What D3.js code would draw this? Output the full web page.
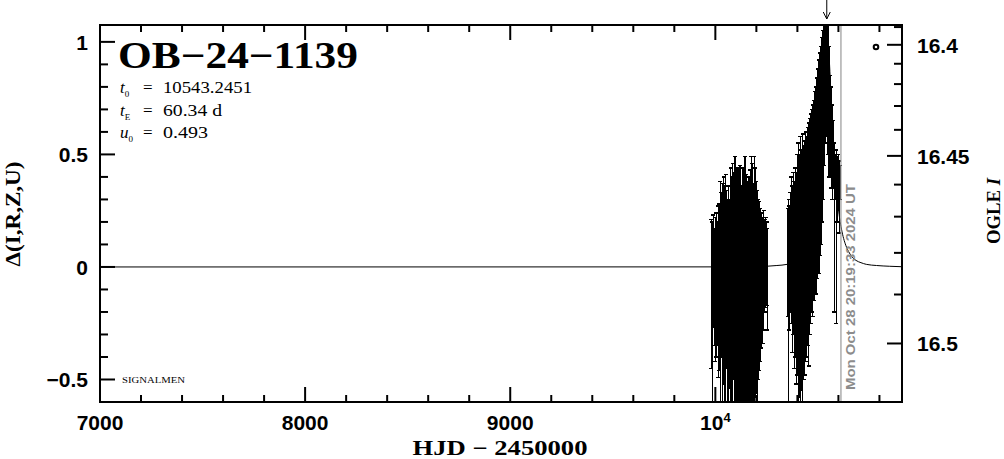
<!DOCTYPE html>
<html><head><meta charset="utf-8">
<script src="https://cdn.jsdelivr.net/npm/d3@7"></script>
<style>body{margin:0;background:#fff}svg{display:block}</style>
</head><body><svg id="c" width="1004" height="459"></svg>
<script>
// ---------- data ----------
const eventName = "OB\u221224\u22121139";
const t0 = 10543.2451, tE = 60.34, u0 = 0.493;
const nowHJD = 10612.35;
const nowLabel = "Mon Oct 28 20:19:33 2024 UT";
const signature = "SIGNALMEN";

const hjd = [9980,9985,9990,9995,10000,10005,10010,10015,10020,10025,10030,10035,10040,10045,10050,10055,10060,10065,10070,10075,10080,10085,10090,10095,10100,10105,10110,10115,10120,10125,10130,10135,10140,10145,10150,10155,10160,10165,10170,10175,10180,10185,10190,10195,10200,10205,10210,10215,10220,10225,10230,10235,10240,10245,10250,10253,
  10353,10357,10360,10365,10370,10375,10380,10385,10390,10395,10400,10405,10410,10415,10420,10425,10430,10435,10440,10445,10450,10455,10460,10465,10470,10475,10480,10485,10490,10495,10500,10505,10510,10515,10520,10525,10530,10535,10540,10545,10550,10555,10560,10565,10570,10575,10580,10585,10590,10595,10600,10605,10610];
const delta = [-0.12,-0.215,-0.02,-0.09,-0.10,-0.08,-0.075,-0.11,-0.09,-0.13,-0.035,-0.145,-0.06,-0.135,-0.145,-0.055,-0.19,-0.18,-0.12,-0.10,-0.13,-0.13,-0.04,-0.13,-0.095,-0.19,-0.07,-0.17,-0.105,-0.17,-0.095,-0.17,-0.12,-0.115,-0.125,-0.16,-0.155,-0.18,-0.085,-0.105,-0.10,-0.15,-0.115,-0.07,-0.09,-0.14,-0.10,-0.085,-0.08,-0.06,-0.06,-0.015,0.005,0.02,0.015,-0.055,
  0.02,-0.15,-0.005,0.065,0.075,-0.01,0.06,-0.035,0.02,-0.05,0.01,-0.035,-0.04,-0.035,-0.015,-0.015,0.02,0.04,0.09,0.09,0.135,0.10,0.18,0.215,0.25,0.25,0.295,0.34,0.34,0.395,0.44,0.445,0.50,0.54,0.61,0.675,0.775,0.85,0.86,0.84,0.79,0.69,0.625,0.575,0.51,0.50,0.175,0.40,0.135,0.345,0.375,0.31,0.375];
const err = [0.33,0.415,0.25,0.26,0.32,0.32,0.275,0.38,0.37,0.51,0.365,0.515,0.46,0.495,0.555,0.395,0.49,0.54,0.42,0.54,0.53,0.59,0.46,0.62,0.525,0.49,0.51,0.57,0.555,0.49,0.455,0.61,0.52,0.605,0.535,0.54,0.485,0.58,0.515,0.595,0.56,0.52,0.605,0.51,0.47,0.48,0.40,0.375,0.34,0.30,0.28,0.265,0.205,0.20,0.185,0.225,
  0.24,0.45,0.275,0.265,0.325,0.37,0.36,0.415,0.42,0.47,0.49,0.585,0.54,0.615,0.535,0.605,0.52,0.52,0.51,0.49,0.485,0.54,0.48,0.465,0.45,0.47,0.445,0.44,0.46,0.445,0.44,0.475,0.45,0.44,0.41,0.375,0.325,0.30,0.26,0.26,0.29,0.29,0.225,0.225,0.21,0.15,0.375,0.10,0.385,0.145,0.125,0.16,0.075];

const modelHJD = [7000,10000,10200,10300,10350,10400,10450,10480,10500,10520,10530,10543.2,10556,10566,10586,10606,10615,10636,10650,10665,10686,10710,10736,10786,10850,10910];
const modelDelta = [0,0.0003,0.0016,0.0064,0.0116,0.029,0.096,0.216,0.395,0.718,0.912,1.052,0.912,0.718,0.395,0.216,0.168,0.096,0.068,0.046,0.029,0.019,0.0116,0.0064,0.003,0.001];

const xMajor = [7000, 8000, 9000, 10000];
const xMajorLabels = ["7000", "8000", "9000", "10"];
const yMajor = [-0.5, 0, 0.5, 1];
const yMajorLabels = ["\u22120.5", "0", "0.5", "1"];
const magMajor = [16.4, 16.45, 16.5];
const magMajorLabels = ["16.4", "16.45", "16.5"];
const magMinor = [16.39,16.40,16.41,16.42,16.43,16.44,16.45,16.46,16.47,16.48,16.49,16.50];
const magZero = 16.552;

// ---------- layout ----------
const L = 100, R = 902, T = 25, B = 402;
const svg = d3.select("#c");
const x = d3.scaleLinear().domain([7000, 10910]).range([L, R]);
const y = d3.scaleLinear().domain([-0.6, 1.075]).range([B, T]);
const magToDelta = d3.scaleLog().domain([magZero - 16.4, magZero - 16.5]).range([0.987, -0.34]);
const ym = m => y(magToDelta(magZero - m));

const serif = "'Liberation Serif', 'DejaVu Serif', serif";
const sans = "'Liberation Sans', Arial, sans-serif";

svg.append("defs").append("clipPath").attr("id", "clip")
  .append("rect").attr("x", L).attr("y", T).attr("width", R - L).attr("height", B - T);

// model
const line = d3.line().x((d, i) => x(modelHJD[i])).y(d => y(d)).curve(d3.curveMonotoneX);
svg.append("path").attr("clip-path", "url(#clip)").attr("d", line(modelDelta))
  .attr("fill", "none").attr("stroke", "#000").attr("stroke-width", 1);

// data error bars
const gD = svg.append("g").attr("clip-path", "url(#clip)")
  .attr("stroke", "#000").attr("stroke-width", 1.4).attr("shape-rendering", "crispEdges");
hjd.forEach((t, i) => {
  const xx = x(t), y1 = y(delta[i] + err[i]), y2 = y(delta[i] - err[i]);
  gD.append("line").attr("x1", xx).attr("x2", xx).attr("y1", y1).attr("y2", y2);
  gD.append("line").attr("x1", xx - 2).attr("x2", xx + 2).attr("y1", y1).attr("y2", y1);
  gD.append("line").attr("x1", xx - 2).attr("x2", xx + 2).attr("y1", y2).attr("y2", y2);
});

// now line and label
const xn = x(nowHJD);
svg.append("line").attr("x1", xn).attr("x2", xn).attr("y1", T).attr("y2", B)
  .attr("stroke", "#999").attr("stroke-width", 1.2);
svg.append("text").attr("transform", `translate(${xn + 14},390) rotate(-90)`)
  .attr("font-family", sans).attr("font-weight", "bold").attr("font-size", 13)
  .attr("fill", "#8c8c8c").attr("textLength", 206).attr("lengthAdjust", "spacingAndGlyphs")
  .text(nowLabel);

// frame
svg.append("rect").attr("x", L).attr("y", T).attr("width", R - L).attr("height", B - T)
  .attr("fill", "none").attr("stroke", "#000").attr("stroke-width", 2);

const gT = svg.append("g").attr("stroke", "#000").attr("stroke-width", 2);
x.ticks(20).forEach(v => {
  const maj = xMajor.includes(v), len = maj ? 15 : 7;
  gT.append("line").attr("x1", x(v)).attr("x2", x(v)).attr("y1", B).attr("y2", B - len);
  gT.append("line").attr("x1", x(v)).attr("x2", x(v)).attr("y1", T).attr("y2", T + len);
});
y.ticks(20).forEach(v => {
  const maj = yMajor.some(m => Math.abs(m - v) < 1e-9), len = maj ? 15 : 8;
  gT.append("line").attr("x1", L).attr("x2", L + len).attr("y1", y(v)).attr("y2", y(v));
});
magMinor.forEach(m => {
  const maj = magMajor.some(k => Math.abs(k - m) < 1e-9), len = maj ? 15 : 8;
  const yy = ym(m);
  if (yy < T || yy > B) return;
  gT.append("line").attr("x1", R).attr("x2", R - len).attr("y1", yy).attr("y2", yy);
});

// tick labels
const lab = (sel) => sel.attr("font-family", sans).attr("font-weight", "bold").attr("font-size", 21).attr("fill", "#000");
xMajor.forEach((v, i) => {
  const t = lab(svg.append("text")).attr("x", x(v)).attr("y", 430).attr("text-anchor", "middle");
  t.append("tspan").text(xMajorLabels[i]);
  if (v === 10000) t.append("tspan").attr("font-size", 13).attr("dy", -8).text("4");
});
yMajor.forEach((v, i) => {
  lab(svg.append("text")).attr("x", 88).attr("y", y(v) + 8).attr("text-anchor", "end").text(yMajorLabels[i]);
});
magMajor.forEach((m, i) => {
  lab(svg.append("text")).attr("x", 917).attr("y", ym(m) + 8).attr("text-anchor", "start").text(magMajorLabels[i]);
});

// axis titles
svg.append("text").attr("x", 500).attr("y", 455).attr("text-anchor", "middle")
  .attr("font-family", serif).attr("font-weight", "bold").attr("font-size", 21)
  .attr("textLength", 175).attr("lengthAdjust", "spacingAndGlyphs")
  .text("HJD  \u2212  2450000");
svg.append("text").attr("transform", "translate(20,214) rotate(-90)").attr("text-anchor", "middle")
  .attr("font-family", serif).attr("font-weight", "bold").attr("font-size", 21)
  .attr("textLength", 105).attr("lengthAdjust", "spacingAndGlyphs")
  .text("\u0394(I,R,Z,U)");
const ot = svg.append("text").attr("transform", "translate(1000,211) rotate(-90)").attr("text-anchor", "middle")
  .attr("font-family", serif).attr("font-weight", "bold").attr("font-size", 19)
  .attr("textLength", 66).attr("lengthAdjust", "spacingAndGlyphs");
ot.append("tspan").text("OGLE ");
ot.append("tspan").attr("font-style", "italic").text("I");

// title and parameters
svg.append("text").attr("x", 118).attr("y", 68)
  .attr("font-family", serif).attr("font-weight", "bold").attr("font-size", 37)
  .attr("textLength", 240).attr("lengthAdjust", "spacingAndGlyphs").text(eventName);

const params = [
  {sym: "t", sub: "0", val: String(t0), len: 89},
  {sym: "t", sub: "E", val: tE + " d", len: 59},
  {sym: "u", sub: "0", val: String(u0), len: 45}
];
params.forEach((p, i) => {
  const yy = 93 + i * 22.5;
  const s = svg.append("text").attr("x", 120).attr("y", yy).attr("font-family", serif).attr("font-size", 17);
  s.append("tspan").attr("font-style", "italic").text(p.sym);
  s.append("tspan").attr("font-size", 9).attr("dy", 4).text(p.sub);
  svg.append("text").attr("x", 143).attr("y", yy).attr("font-family", serif).attr("font-size", 17).text("=");
  svg.append("text").attr("x", 163).attr("y", yy).attr("font-family", serif).attr("font-size", 17)
    .attr("textLength", p.len).attr("lengthAdjust", "spacingAndGlyphs").text(p.val);
});

svg.append("text").attr("x", 122).attr("y", 383).attr("font-family", serif).attr("font-size", 9)
  .attr("textLength", 63).attr("lengthAdjust", "spacingAndGlyphs").text(signature);

// legend symbol
svg.append("circle").attr("cx", 876).attr("cy", 47).attr("r", 2.3)
  .attr("fill", "none").attr("stroke", "#000").attr("stroke-width", 2);

// t0 arrow
const xa = x(t0);
const ga = svg.append("g").attr("stroke", "#000").attr("stroke-width", 1).attr("fill", "none");
ga.append("line").attr("x1", xa).attr("x2", xa).attr("y1", 0).attr("y2", 19);
ga.append("path").attr("d", `M${xa - 3.5},12 L${xa},19 L${xa + 3.5},12`);
</script></body></html>
